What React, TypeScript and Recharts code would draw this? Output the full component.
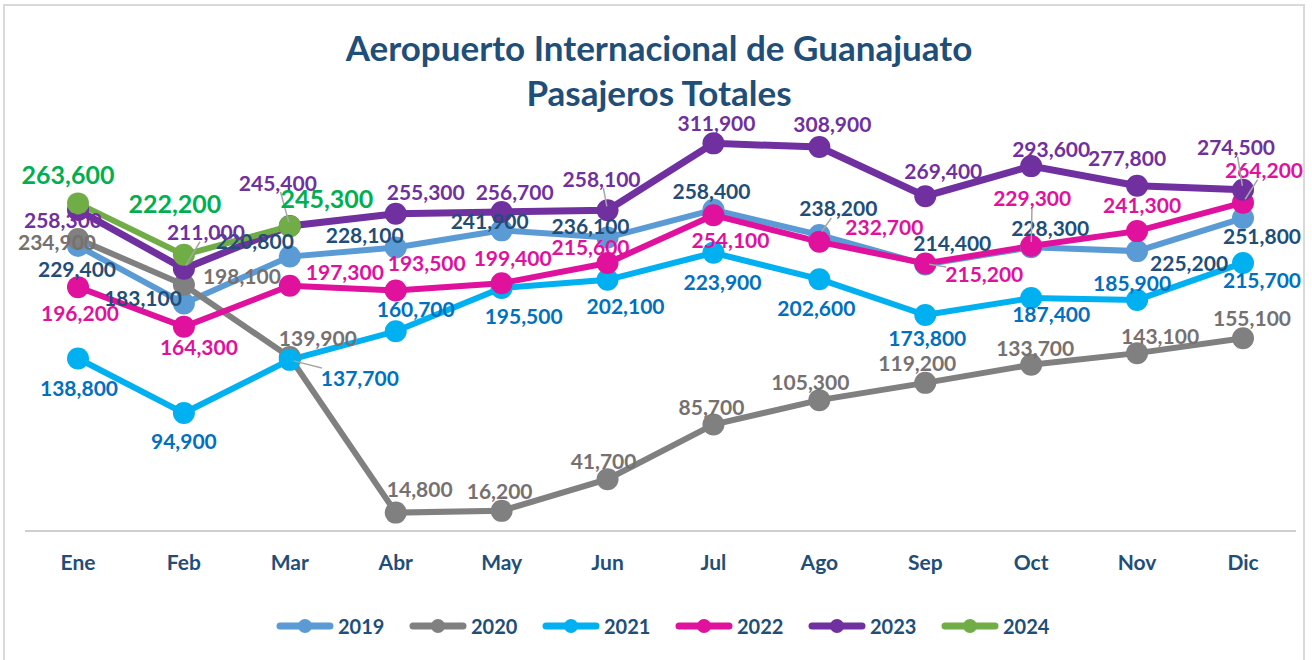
import { LineChart, Line, XAxis, YAxis, LabelList } from 'recharts'

const MONTHS = ['Ene', 'Feb', 'Mar', 'Abr', 'May', 'Jun', 'Jul', 'Ago', 'Sep', 'Oct', 'Nov', 'Dic']

const Y2019 = [229400, 183100, 220800, 228100, 241900, 236100, 258400, 238200, 214400, 228300, 225200, 251800]
const Y2020 = [234900, 198100, 139900, 14800, 16200, 41700, 85700, 105300, 119200, 133700, 143100, 155100]
const Y2021 = [138800, 94900, 137700, 160700, 195500, 202100, 223900, 202600, 173800, 187400, 185900, 215700]
const Y2022 = [196200, 164300, 197300, 193500, 199400, 215600, 254100, 232700, 215200, 229300, 241300, 264200]
const Y2023 = [258300, 211000, 245400, 255300, 256700, 258100, 311900, 308900, 269400, 293600, 277800, 274500]
const Y2024 = [263600, 222200, 245300]

// label offsets from each point (dx, dy), placed by hand like the original
const OFF_2019 = [[-1, 23], [-41, -6], [-35, -16], [-31, -13], [-12, -10], [-17, -12], [-2, -19], [19, -27], [27, -22], [19, -20], [52, 11], [19, 17]]
const OFF_2020 = [[-21, 2], [58, -9], [28, -20], [24, -24], [-2, -20], [-4, -19], [-2, -18], [-9, -19], [-8, -20], [4, -17], [23, -18], [9, -21]]
const OFF_2021 = [[1, 29], [0, 27], [70, 18], [20, -23], [22, 27], [18, 26], [9, 29], [-3, 28], [2, 23], [20, 15], [-5, -17], [19, 17]]
const OFF_2022 = [[2, 25], [15, 20], [55, -14], [31, -28], [11, -26], [-17, -17], [17, 24], [65, -15], [59, 10], [1, -49], [5, -27], [21, -33]]
const OFF_2023 = [[-15, 10], [22, -37], [-12, -44], [30, -22], [13, -20], [-6, -32], [3, -21], [13, -24], [18, -26], [20, -18], [-10, -28], [-7, -43]]
const OFF_2024 = [[-10, -29], [-9, -52], [37, -28]]

const LEADERS = ['2023-1', '2023-2', '2021-2', '2023-5', '2019-7', '2022-8', '2022-9', '2023-11', '2022-11']

const SERIES = [
  { key: '2019', values: Y2019, off: OFF_2019, line: '#5B9BD5', label: '#1F4E79', width: 6, size: 21 },
  { key: '2020', values: Y2020, off: OFF_2020, line: '#808080', label: '#767171', width: 6, size: 21 },
  { key: '2021', values: Y2021, off: OFF_2021, line: '#00B0F0', label: '#0070C0', width: 6, size: 21 },
  { key: '2022', values: Y2022, off: OFF_2022, line: '#E0119D', label: '#E0119D', width: 6, size: 21 },
  { key: '2023', values: Y2023, off: OFF_2023, line: '#7030A0', label: '#7030A0', width: 7, size: 21 },
  { key: '2024', values: Y2024, off: OFF_2024, line: '#70AD47', label: '#00B050', width: 6, size: 25 },
]

const data = MONTHS.map((m, i) => {
  const row: Record<string, string | number | null> = { m }
  SERIES.forEach((s) => {
    row[s.key] = s.values[i] ?? null
  })
  return row
})

const FONT = 'Lato, "Open Sans", sans-serif'
const NAVY = '#1F4E79'

function makeLabel(s: (typeof SERIES)[number]) {
  return (props: any) => {
    const { x, y, index, value } = props
    if (value == null || x == null || y == null) return null
    const [dx, dy] = s.off[index] || [0, -20]
    const lx = x + dx
    const ly = y + dy
    let leader = null
    if (LEADERS.includes(`${s.key}-${index}`)) {
      const vx = x - lx
      const vy = y - ly
      const t = Math.min(38 / Math.abs(vx || 0.001), 10 / Math.abs(vy || 0.001))
      const ex = lx + vx * t
      const ey = ly + vy * t
      const len = Math.hypot(vx, vy)
      const sx = x - (vx / len) * 4
      const sy = y - (vy / len) * 4
      leader = <line x1={sx} y1={sy} x2={ex} y2={ey} stroke="#A6A6A6" strokeWidth={1.5} />
    }
    return (
      <g>
        {leader}
        <text
          x={lx}
          y={ly}
          textAnchor="middle"
          dominantBaseline="central"
          fill={s.label}
          fontSize={s.size}
          fontWeight={700}
          fontFamily={FONT}
        >
          {Number(value).toLocaleString('en-US')}
        </text>
      </g>
    )
  }
}

function LegendBar() {
  return (
    <div style={{ position: 'absolute', left: 276, top: 612, display: 'flex', fontFamily: FONT }}>
      {SERIES.map((s) => (
        <div key={s.key} style={{ width: 133, display: 'flex', alignItems: 'center', height: 28 }}>
          <svg width={58} height={20}>
            <line x1={4} y1={10} x2={54} y2={10} stroke={s.line} strokeWidth={7} strokeLinecap="round" />
            <circle cx={29} cy={10} r={7} fill={s.line} />
          </svg>
          <span style={{ color: NAVY, fontWeight: 700, fontSize: 20, marginLeft: 4 }}>{s.key}</span>
        </div>
      ))}
    </div>
  )
}

export default function App() {
  return (
    <div style={{ position: 'absolute', left: 0, top: 0, width: 1312, height: 660, background: '#fff', overflow: 'hidden' }}>
      <div
        style={{
          position: 'absolute',
          left: 3,
          top: 4,
          width: 1302,
          height: 720,
          border: '2px solid #D9D9D9',
          boxSizing: 'border-box',
        }}
      />
      <div
        style={{
          position: 'absolute',
          left: 0,
          top: 25,
          width: 1318,
          textAlign: 'center',
          fontFamily: FONT,
          fontWeight: 700,
          fontSize: 35,
          lineHeight: '45px',
          color: NAVY,
        }}
      >
        Aeropuerto Internacional de Guanajuato
        <br />
        Pasajeros Totales
      </div>
      <div style={{ position: 'absolute', left: 0, top: 0 }}>
        <LineChart width={1312} height={660} data={data} margin={{ top: 96, right: 16, bottom: 89, left: 25 }}>
          <XAxis
            dataKey="m"
            height={40}
            padding={{ left: 53, right: 53 }}
            axisLine={{ stroke: '#BFBFBF', strokeWidth: 1.5 }}
            tickLine={false}
            tickMargin={18}
            tick={{ fill: NAVY, fontSize: 21, fontWeight: 700, fontFamily: FONT }}
          />
          <YAxis hide domain={[0, 350000]} />
          {SERIES.map((s) => (
            <Line
              key={s.key}
              dataKey={s.key}
              stroke={s.line}
              strokeWidth={s.width}
              dot={{ r: 11, fill: s.line, stroke: s.line, strokeWidth: 0 }}
              activeDot={false}
              isAnimationActive={false}
            />
          ))}
          {SERIES.map((s) => (
            <Line
              key={`lbl-${s.key}`}
              dataKey={s.key}
              stroke="none"
              dot={false}
              activeDot={false}
              legendType="none"
              isAnimationActive={false}
            >
              <LabelList dataKey={s.key} content={makeLabel(s)} />
            </Line>
          ))}
        </LineChart>
      </div>
      <LegendBar />
    </div>
  )
}
